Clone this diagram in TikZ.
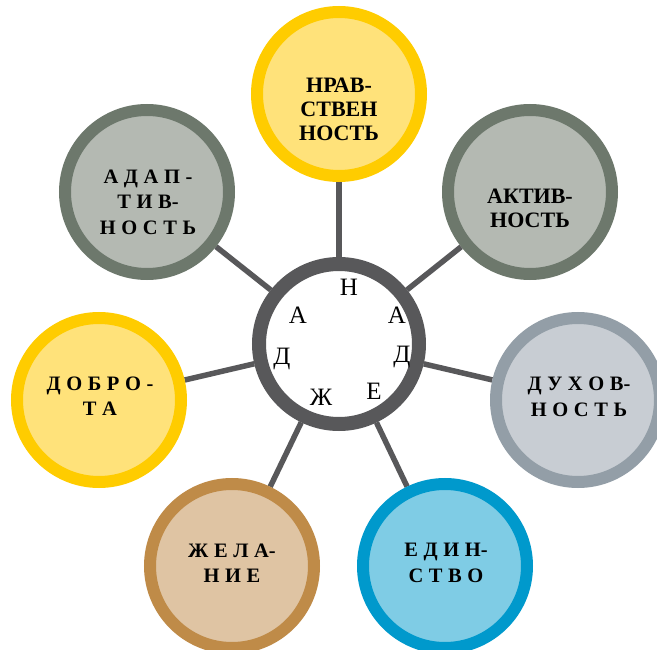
\documentclass[tikz,border=0pt]{standalone}
\usepackage{fontspec}
\setmainfont{Liberation Serif}
\usetikzlibrary{backgrounds,calc}
\definecolor{hubgray}{HTML}{58585A}
\definecolor{gold}{HTML}{FFCC00}
\definecolor{goldfill}{HTML}{FFE27A}
\definecolor{sage}{HTML}{6D786C}
\definecolor{sagefill}{HTML}{B4B9B2}
\definecolor{steel}{HTML}{939EA7}
\definecolor{steelfill}{HTML}{C8CDD3}
\definecolor{tan}{HTML}{BF8B48}
\definecolor{tanfill}{HTML}{DFC4A3}
\definecolor{sky}{HTML}{0099CC}
\definecolor{skyfill}{HTML}{7FCCE5}
\newcommand{\lsp}{\kern5.6pt}
\begin{document}
\begin{tikzpicture}[x=1pt,y=-1pt,
  outer/.style={circle,minimum size=164pt,inner sep=0pt,line width=12pt},
  hub/.style={circle,minimum size=160pt,inner sep=0pt,line width=14pt,draw=hubgray,fill=white},
  link/.style={draw=hubgray,line width=5.5pt},
  plain/.style={font=\bfseries\fontsize{22}{24}\selectfont,align=center,inner sep=0pt},
  spaced/.style={font=\bfseries\fontsize{20.5}{25.5}\selectfont,align=center,inner sep=0pt},
  letter/.style={font=\fontsize{25}{25}\selectfont,inner sep=0pt}]
\useasboundingbox (0,0) rectangle (657,650);
\clip (0,0) rectangle (657,650);

\node[hub] (c) at (339,344) {};
\node[outer,draw=gold,fill=goldfill] (n1) at (339,94) {};
\node[outer,draw=sage,fill=sagefill] (n2) at (530,192) {};
\node[outer,draw=steel,fill=steelfill] (n3) at (578,400) {};
\node[outer,draw=sky,fill=skyfill] (n4) at (445,566) {};
\node[outer,draw=tan,fill=tanfill] (n5) at (232,566) {};
\node[outer,draw=gold,fill=goldfill] (n6) at (99,400) {};
\node[outer,draw=sage,fill=sagefill] (n7) at (147,192) {};

\begin{scope}[on background layer]
\foreach \k in {1,...,7} \draw[link] (c) -- (n\k);
\end{scope}

\node[plain] (t1) at (339,109) {НРАВ-\\СТВЕН\\НОСТЬ};
\node[plain] (t2) at (530,208) {АКТИВ-\\НОСТЬ};
\node[spaced] (t3) at (579,397) {Д\lsp У\lsp Х\lsp О\lsp В-\\Н\lsp О\lsp С\lsp Т\lsp Ь};
\node[spaced] (t4) at (446,563) {Е\lsp Д\lsp И\lsp Н-\\С\lsp Т\lsp В\lsp О};
\node[spaced] (t5) at (232,563) {Ж\lsp Е\lsp Л\lsp А-\\Н\lsp И\lsp Е};
\node[spaced] (t6) at (100,396) {Д\lsp О\lsp Б\lsp Р\lsp О\lsp -\\Т\lsp А};
\node[spaced] (t7) at (148,202) {А\lsp Д\lsp А\lsp П\lsp -\\Т\lsp И\lsp В-\\Н\lsp О\lsp С\lsp Т\lsp Ь};

\node[letter] (l1) at (349,287) {Н};
\node[letter] (l2) at (397,315) {А};
\node[letter] (l3) at (402,357) {Д};
\node[letter] (l4) at (374,391) {Е};
\node[letter] (l5) at (321,397) {Ж};
\node[letter] (l6) at (282,359) {Д};
\node[letter] (l7) at (298,315) {А};
\end{tikzpicture}
\end{document}
